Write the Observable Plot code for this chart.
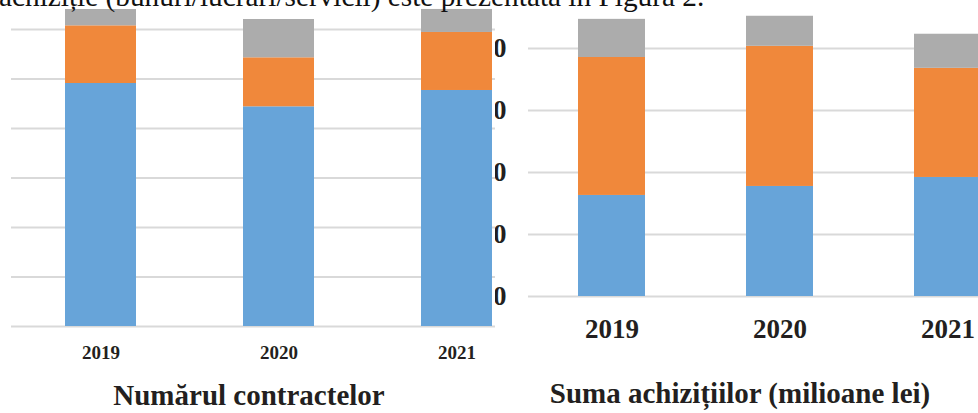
<!DOCTYPE html>
<html>
<head>
<meta charset="utf-8">
<script src="https://cdn.jsdelivr.net/npm/d3@7"></script>
<script src="https://cdn.jsdelivr.net/npm/@observablehq/plot@0.6"></script>
<style>
html, body { margin: 0; padding: 0; background: #fff; }
#wrap { position: relative; width: 978px; height: 413px; overflow: hidden; background: #fff; }
.abs { position: absolute; }
#right { left: 480px; top: 0; }
#left { left: 0; top: 0; background: #fff; }
#left svg, #right svg { display: block; max-width: none; }
.title { position: absolute; font-family: "Liberation Serif", serif; font-weight: bold; font-size: 29px;
  color: #231f20; white-space: nowrap; transform: translateX(-50%); line-height: 1; }
#intro { position: absolute; left: -1px; top: -18px; font-family: "Liberation Serif", serif; font-size: 29.3px;
  line-height: 1; color: #111; white-space: nowrap; }
</style>
</head>
<body>
<div id="wrap">
  <div id="right" class="abs"></div>
  <div id="left" class="abs"></div>
  <div class="title" style="left:249px; top:380.5px;">Numărul contractelor</div>
  <div class="title" style="left:740px; top:379px;">Suma achizițiilor (milioane lei)</div>
  <div id="intro">achiziție (bunuri/lucrări/servicii) este prezentată în Figura 2.</div>
</div>
<script>
const years = ["2019", "2020", "2021"];
const types = ["Bunuri", "Servicii", "Lucrări"];
const colors = ["#67A4D9", "#F0883B", "#ACACAC"];

// Numărul contractelor
const contractsBlue = [4909, 4438, 4768];
const contractsOrange = [1165, 990, 1172];
const contractsGray = [330, 774, 465];
const contractTicks = [0, 1000, 2000, 3000, 4000, 5000, 6000];

// Suma achizițiilor (milioane lei)
const sumBlue = [326, 355, 384];
const sumOrange = [445, 452, 352];
const sumGray = [123, 97, 110];
const sumTicks = [0, 200, 400, 600, 800];

function rows(a, b, c) {
  return years.flatMap((y, i) => [
    {year: y, type: types[0], value: a[i]},
    {year: y, type: types[1], value: b[i]},
    {year: y, type: types[2], value: c[i]}
  ]);
}

const gridColor = "#D9D9D9";

const leftPlot = Plot.plot({
  width: 495, height: 365,
  marginLeft: 11, marginRight: 0, marginTop: 29, marginBottom: 39,
  style: {background: "#fff", fontFamily: "Liberation Serif", color: "#231f20", overflow: "visible"},
  x: {domain: years, range: [11, 546.5], paddingInner: 0.6, paddingOuter: 0.3, label: null, axis: null},
  y: {domain: [0, 6000], axis: null},
  color: {domain: types, range: colors},
  marks: [
    Plot.ruleY(contractTicks, {stroke: gridColor, strokeWidth: 1.8}),
    Plot.barY(rows(contractsBlue, contractsOrange, contractsGray), {x: "year", y: "value", fill: "type"}),
    Plot.axisX({tickSize: 0, tickPadding: 19, fontSize: 19, fontWeight: "bold", fill: "#231f20", label: null})
  ]
});
document.getElementById("left").appendChild(leftPlot);

const rightPlot = Plot.plot({
  width: 498, height: 365,
  marginLeft: 48, marginRight: 0, marginTop: 48, marginBottom: 69,
  style: {background: "#fff", fontFamily: "Liberation Serif", color: "#231f20", overflow: "visible"},
  x: {domain: years, range: [48, 48 + 168 * 3], paddingInner: 0.6, paddingOuter: 0.3, label: null, axis: null},
  y: {domain: [0, 800], axis: null},
  color: {domain: types, range: colors},
  marks: [
    Plot.ruleY(sumTicks, {stroke: gridColor, strokeWidth: 1.8}),
    Plot.barY(rows(sumBlue, sumOrange, sumGray), {x: "year", y: "value", fill: "type"}),
    Plot.axisX({tickSize: 0, tickPadding: 22, fontSize: 27, fontWeight: "bold", fill: "#231f20", label: null}),
    Plot.axisY({ticks: sumTicks, tickSize: 0, tickPadding: 22, fontSize: 27, fontWeight: "bold", fill: "#231f20", label: null})
  ]
});
document.getElementById("right").appendChild(rightPlot);
</script>
</body>
</html>
